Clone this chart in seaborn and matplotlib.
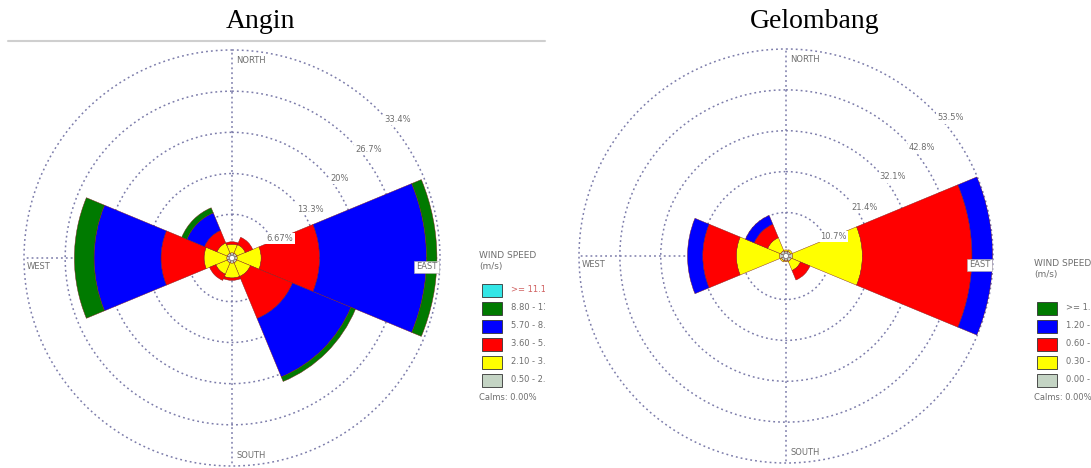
import numpy as np
import matplotlib
matplotlib.use("Agg")
import matplotlib.pyplot as plt
import seaborn as sns
from matplotlib.patches import Rectangle
from matplotlib.lines import Line2D

# ---------------------------------------------------------------- data
directions = ["N", "NE", "E", "SE", "S", "SW", "W", "NW"]

# Angin: frequency (%) per direction for each wind speed class (m/s)
wind_class_labels = ["0.50 - 2.10", "2.10 - 3.60", "3.60 - 5.70",
                     "5.70 - 8.80", "8.80 - 11.10", ">= 11.10"]
wind_050_210 = [0.4, 0.4, 0.4, 0.4, 0.4, 0.4, 0.4, 0.4]
wind_210_360 = [1.4, 1.5, 3.9, 2.4, 2.4, 2.0, 3.7, 1.8]
wind_360_570 = [0.4, 1.3, 9.5, 7.4, 0.4, 1.1, 7.0, 2.2]
wind_570_880 = [0.0, 0.0, 17.4, 10.3, 0.0, 0.0, 10.9, 3.1]
wind_880_1110 = [0.0, 0.0, 1.7, 0.8, 0.0, 0.0, 3.2, 0.9]
wind_ge_1110 = [0.0, 0.0, 0.0, 0.0, 0.0, 0.0, 0.0, 0.0]
wind_rings = [6.67, 13.3, 20.0, 26.7, 33.4]
wind_ring_labels = ["6.67%", "13.3%", "20%", "26.7%", "33.4%"]
wind_calms = "Calms: 0.00%"

# Gelombang: frequency (%) per direction for each class
wave_class_labels = ["0.00 - 0.30", "0.30 - 0.60", "0.60 - 1.20",
                     "1.20 - 1.50", ">= 1.50"]
wave_000_030 = [0.6, 0.6, 1.0, 0.8, 0.6, 0.6, 1.0, 0.8]
wave_030_060 = [0.3, 0.5, 18.3, 2.6, 0.2, 0.4, 11.3, 3.7]
wave_060_120 = [0.0, 0.0, 28.7, 2.7, 0.0, 0.0, 8.8, 3.8]
wave_120_150 = [0.0, 0.0, 5.4, 0.0, 0.0, 0.0, 4.0, 2.5]
wave_ge_150 = [0.0, 0.0, 0.0, 0.0, 0.0, 0.0, 0.0, 0.0]
wave_rings = [10.7, 21.4, 32.1, 42.8, 53.5]
wave_ring_labels = ["10.7%", "21.4%", "32.1%", "42.8%", "53.5%"]
wave_calms = "Calms: 0.00%"

# ---------------------------------------------------------------- style
sns.set_theme(style="white")
plt.rcParams["font.family"] = ["DejaVu Sans"]

class_colors = sns.color_palette(["#c4d4c4", "#ffff00", "#ff0000",
                                  "#0000ff", "#007a00", "#33e6e6"])
grid_color = "#7c7caa"
label_color = "#6e6e6e"

W, H = 1091, 468
fig = plt.figure(figsize=(W / 100, H / 100), dpi=100)
fig.patch.set_facecolor("white")


def fx(px):
    return px / W


def fy(py):
    return 1 - py / H


def rose(center, radius, layers, rings, ring_labels, hole):
    cx, cy = center
    ax = fig.add_axes([fx(cx - radius), fy(cy + radius),
                       2 * radius / W, 2 * radius / H], projection="polar")
    ax.set_theta_zero_location("N")
    ax.set_theta_direction(-1)
    theta = np.deg2rad(np.arange(len(directions)) * 360 / len(directions))
    width = 2 * np.pi / len(directions)
    bottom = np.zeros(len(directions))
    for vals, col in zip(layers, class_colors):
        vals = np.asarray(vals, dtype=float)
        keep = vals > 0
        if keep.any():
            ax.bar(theta[keep], vals[keep], width=width, bottom=bottom[keep],
                   color=col, edgecolor="#7a1a1a", linewidth=0.3,
                   align="center", zorder=2)
        bottom = bottom + vals
    rmax = rings[-1]
    ax.set_ylim(0, rmax)
    ax.set_rorigin(-hole)
    ax.set_yticks(rings)
    ax.set_yticklabels([])
    ax.set_xticks(np.deg2rad([0, 90, 180, 270]))
    ax.set_xticklabels([])
    ax.set_axisbelow(True)
    ax.grid(True, color=grid_color, linestyle=(0, (1.2, 2)), linewidth=1.1)
    for gl in ax.yaxis.get_gridlines() + ax.xaxis.get_gridlines():
        gl.set_clip_on(False)
    ax.spines["polar"].set_visible(False)
    ax.spines["inner"].set_color("#888888")
    ax.spines["inner"].set_linewidth(0.8)
    ax.set_facecolor("none")

    # ring value labels
    unit = radius / rmax
    for r, lab, ang in zip(rings, ring_labels, [22, 32, 36.5, 38.5, 40]):
        ax.text(np.deg2rad(90 - ang), r + 8 / unit, lab, fontsize=6,
                color=label_color, ha="center", va="center", zorder=5,
                clip_on=False,
                bbox=dict(boxstyle="square,pad=0.15", fc="white", ec="none"))

    # compass labels
    kw = dict(fontsize=6, color=label_color, textcoords="offset points",
              zorder=5, annotation_clip=False)
    ax.annotate("NORTH", xy=(0, rmax), xytext=(3, -4), ha="left", va="top",
                **kw)
    ax.annotate("SOUTH", xy=(np.pi, rmax), xytext=(3, 4), ha="left",
                va="bottom", **kw)
    ax.annotate("WEST", xy=(1.5 * np.pi, rmax), xytext=(2, -3), ha="left",
                va="top", **kw)
    ax.annotate("EAST", xy=(0.5 * np.pi, rmax), xytext=(-2, -3), ha="right",
                va="top",
                bbox=dict(boxstyle="square,pad=0.2", fc="white",
                          ec="#aaaaaa", lw=0.4), **kw)
    return ax


def legend_panel(x0, x1, y_title, ys, labels, colors, calms, first_color):
    lax = fig.add_axes([fx(x0), fy(415), (x1 - x0) / W, 175 / H])
    lax.set_xlim(x0, x1)
    lax.set_ylim(415, 240)
    lax.axis("off")
    lax.text(x0 + 3, y_title, "WIND SPEED", fontsize=6.5, color=label_color,
             va="center", ha="left", clip_on=True)
    lax.text(x0 + 3, y_title + 11, "(m/s)", fontsize=6.5, color=label_color,
             va="center", ha="left", clip_on=True)
    for i, (y, lab, col) in enumerate(zip(ys, labels, colors)):
        lax.add_patch(Rectangle((x0 + 6, y - 6.5), 20, 13, facecolor=col,
                                edgecolor="#333333", linewidth=0.6,
                                clip_on=True))
        lax.text(x0 + 35, y, lab, fontsize=6, va="center", ha="left",
                 color=first_color if i == 0 else label_color, clip_on=True)
    lax.text(x0 + 3, ys[-1] + 17, calms, fontsize=6, color=label_color,
             va="center", ha="left", clip_on=True)


# ---------------------------------------------------------------- Angin
wind_layers = [wind_050_210, wind_210_360, wind_360_570, wind_570_880,
               wind_880_1110, wind_ge_1110]
rose((232, 258), 208, wind_layers, wind_rings, wind_ring_labels, hole=0.45)

n_wind = len(wind_class_labels)
legend_panel(476, 545, 255, [290 + 18 * i for i in range(n_wind)],
             wind_class_labels[::-1], class_colors[:n_wind][::-1],
             wind_calms, "#d06060")

# ---------------------------------------------------------------- Gelombang
wave_layers = [wave_000_030, wave_030_060, wave_060_120, wave_120_150,
               wave_ge_150]
rose((786, 256), 207, wave_layers, wave_rings, wave_ring_labels, hole=0.7)

n_wave = len(wave_class_labels)
legend_panel(1031, 1091, 263, [308 + 18 * i for i in range(n_wave)],
             wave_class_labels[::-1], class_colors[:n_wave][::-1],
             wave_calms, label_color)

# ---------------------------------------------------------------- titles
fig.text(fx(260), fy(22), "Angin", family="Liberation Serif", fontsize=20,
         ha="center", va="center", color="black")
fig.text(fx(815), fy(22), "Gelombang", family="Liberation Serif",
         fontsize=20, ha="center", va="center", color="black")
fig.add_artist(Line2D([fx(8), fx(545)], [fy(41), fy(41)], color="#cfcfcf",
                      linewidth=1.5))

fig.savefig("out.png", dpi=100, facecolor="white")
